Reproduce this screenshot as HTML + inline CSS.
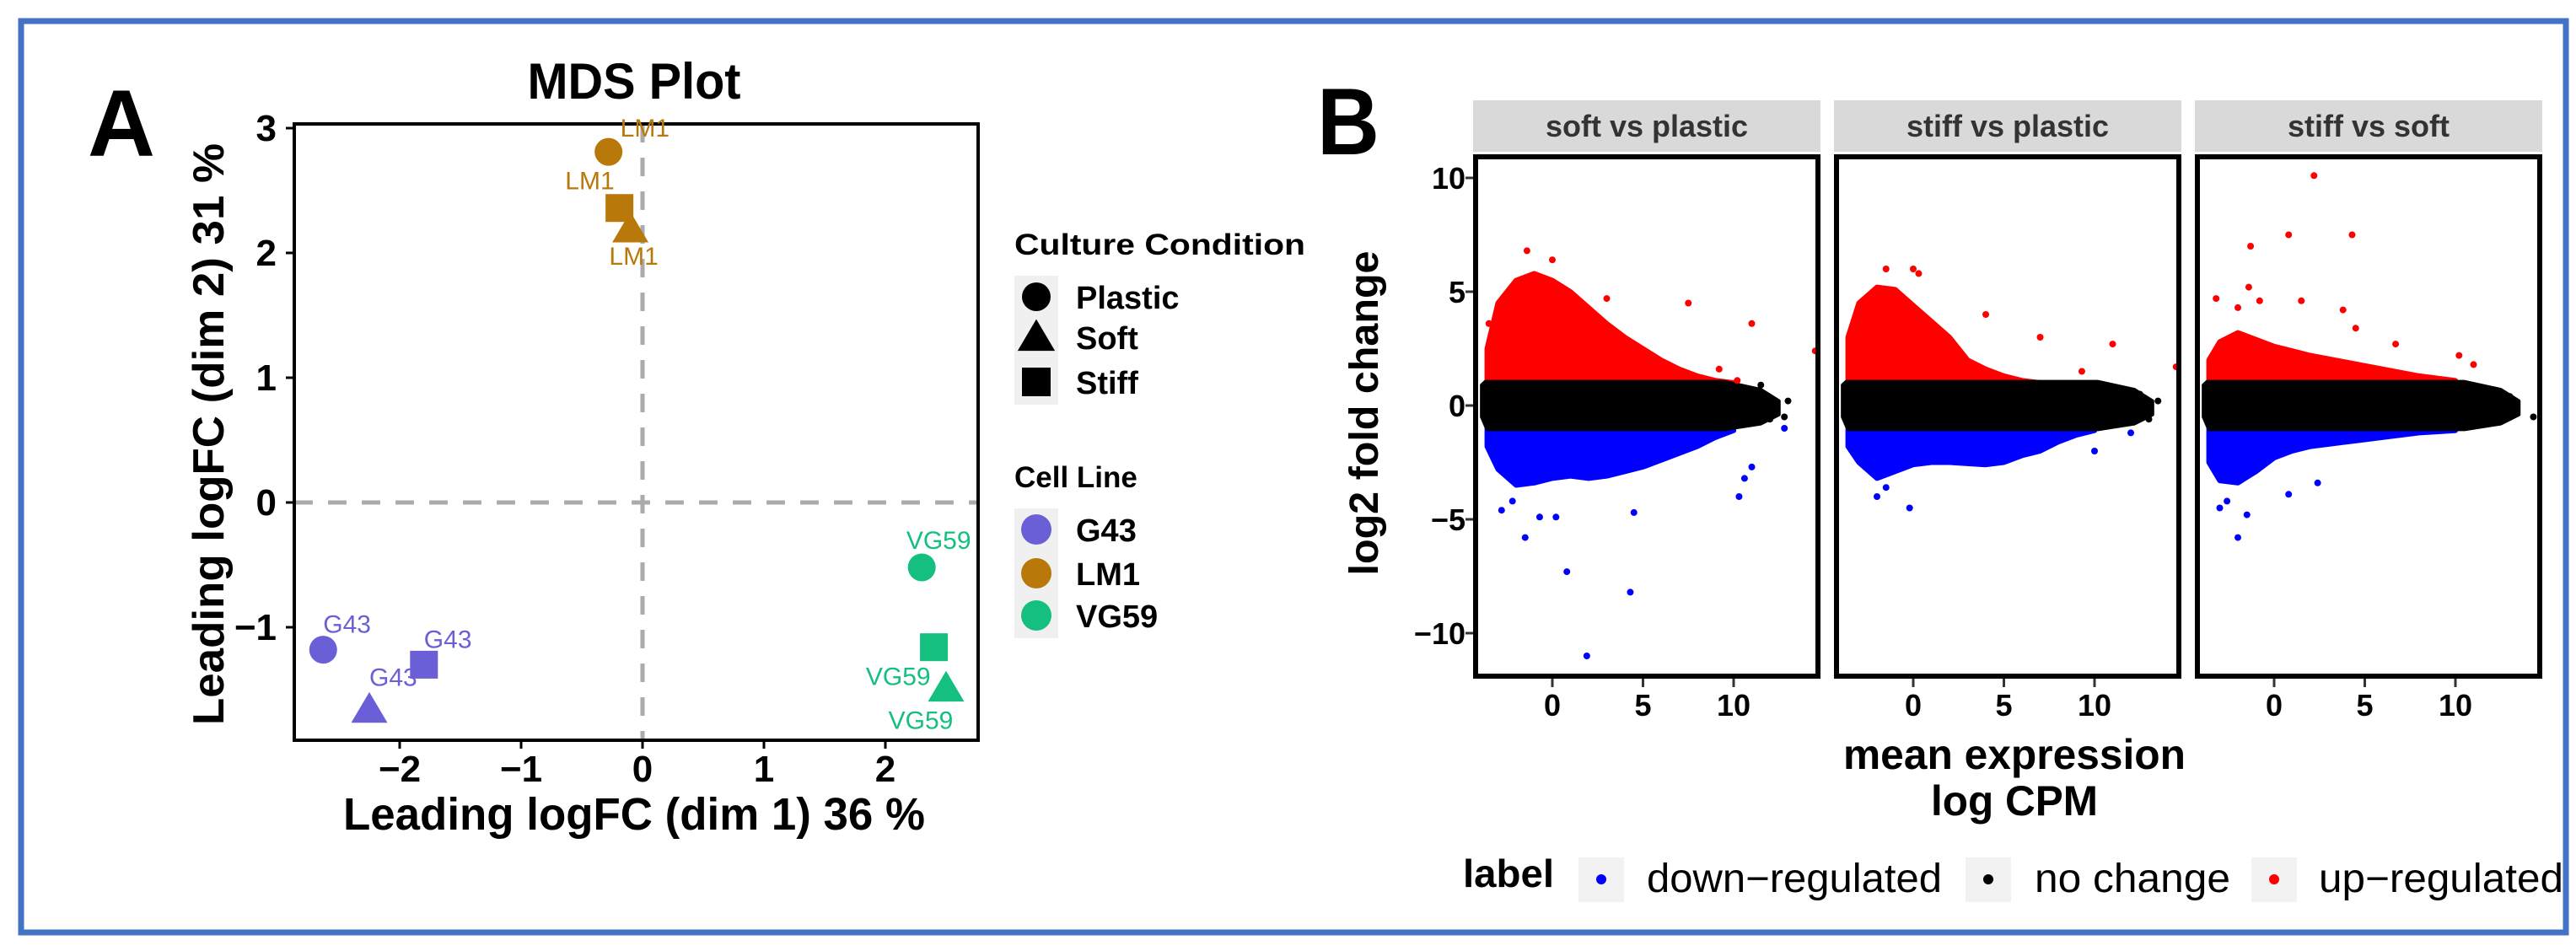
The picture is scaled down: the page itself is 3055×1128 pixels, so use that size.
<!DOCTYPE html>
<html><head><meta charset="utf-8"><style>
html,body{margin:0;padding:0;background:#fff;}
svg{display:block;}
text{font-family:"Liberation Sans Narrow","Liberation Sans",sans-serif;}
</style></head><body>
<svg id="fig" xmlns="http://www.w3.org/2000/svg" width="3055" height="1128" viewBox="0 0 3055 1128">
<rect x="25" y="25" width="3018" height="1081" fill="#fff" stroke="#4472C4" stroke-width="7"/>
<text x="104" y="185" font-size="112" font-weight="bold" textLength="80" lengthAdjust="spacingAndGlyphs">A</text>
<text x="1562" y="183" font-size="112" font-weight="bold" textLength="74" lengthAdjust="spacingAndGlyphs">B</text>
<g id="pa"></g>
<g id="pb"></g>
</svg>
<script>
const NS="http://www.w3.org/2000/svg";
function mk(parent,tag,attrs,txt){const e=document.createElementNS(NS,tag);for(const k in attrs)e.setAttribute(k,attrs[k]);if(txt!==undefined)e.textContent=txt;parent.appendChild(e);return e;}

/* ---------- Panel A: MDS data ---------- */
const mdsLines=["LM1","LM1","LM1","G43","G43","G43","VG59","VG59","VG59"];
const mdsConds=["Plastic","Stiff","Soft","Plastic","Stiff","Soft","Plastic","Stiff","Soft"];
const mdsDim1=[-0.28,-0.19,-0.10,-2.63,-1.80,-2.25,2.30,2.40,2.50];
const mdsDim2=[2.81,2.36,2.19,-1.18,-1.30,-1.66,-0.52,-1.16,-1.49];
const mdsXTicks=[-2,-1,0,1,2];
const mdsYTicks=[-1,0,1,2,3];
const lineColors={G43:"#6A5FD6",LM1:"#B8780A",VG59:"#15BF7F"};

const pa=document.getElementById('pa');
const ax=v=>762+144*v, ay=v=>596-148*v;
const AL=349,AR=1160,AT=147,AB=878;
mk(pa,'text',{x:752,y:117,'font-size':60,'font-weight':'bold','text-anchor':'middle',textLength:253,lengthAdjust:'spacingAndGlyphs',},'MDS Plot');
let l=mk(pa,'line',{x1:AL,x2:AR,y1:ay(0),y2:ay(0),stroke:'#aaa','stroke-width':5,'stroke-dasharray':'22 18'});

l=mk(pa,'line',{x1:ax(0),x2:ax(0),y1:AT,y2:AB,stroke:'#aaa','stroke-width':5,'stroke-dasharray':'22 18'});

mdsXTicks.forEach(t=>{
  mk(pa,'line',{x1:ax(t),x2:ax(t),y1:AB,y2:AB+10,stroke:'#000','stroke-width':3});
  const tx=mk(pa,'text',{x:ax(t),y:927,'font-size':44,'font-weight':'bold','text-anchor':'middle'},t<0?'\u2212'+(-t):String(t));
  
});
mdsYTicks.forEach(t=>{
  mk(pa,'line',{x1:AL-10,x2:AL,y1:ay(t),y2:ay(t),stroke:'#000','stroke-width':3});
  const tx=mk(pa,'text',{x:328,y:ay(t)+15,'font-size':44,'font-weight':'bold','text-anchor':'end'},t<0?'\u2212'+(-t):String(t));
  
});
l=mk(pa,'rect',{x:AL,y:AT,width:AR-AL,height:AB-AT,fill:'none',stroke:'#000','stroke-width':4});

let t=mk(pa,'text',{x:752,y:984,'font-size':54,'font-weight':'bold','text-anchor':'middle',textLength:690,lengthAdjust:'spacingAndGlyphs'},'Leading logFC (dim 1) 36 %');

t=mk(pa,'text',{x:0,y:0,'font-size':52,'font-weight':'bold','text-anchor':'middle',textLength:690,lengthAdjust:'spacingAndGlyphs',transform:'translate(265,515) rotate(-90)',style:'font-family:"Liberation Sans",sans-serif'},'Leading logFC (dim 2) 31 %');


function shape(g,cond,cx,cy,s,col){
  if(cond==='Plastic')return mk(g,'circle',{cx:cx,cy:cy,r:s*0.5,fill:col});
  if(cond==='Stiff')return mk(g,'rect',{x:cx-s*0.5,y:cy-s*0.5,width:s,height:s,fill:col});
  const h=s*1.05;return mk(g,'polygon',{points:`${cx},${cy-h*0.6} ${cx+h*0.62},${cy+h*0.45} ${cx-h*0.62},${cy+h*0.45}`,fill:col});
}
const labelOffsets={Plastic:[14,-18,'start'],Stiff:[-6,-22,'end'],Soft:[4,42,'middle']};
const labelOffsetsVG={Plastic:[20,-22,'middle'],Stiff:[-4,45,'end'],Soft:[-30,48,'middle']};
const labelOffsetsG={Plastic:[0,-20,'start'],Stiff:[0,-20,'start'],Soft:[0,-28,'start']};
mdsDim1.forEach((d1,i)=>{
  const cx=ax(d1),cy=ay(mdsDim2[i]),col=lineColors[mdsLines[i]];
  const m=shape(pa,mdsConds[i],cx,cy,33,col);
  
  
  const off=mdsLines[i]==='VG59'?labelOffsetsVG[mdsConds[i]]:(mdsLines[i]==='G43'?labelOffsetsG[mdsConds[i]]:labelOffsets[mdsConds[i]]);
  const lb=mk(pa,'text',{x:cx+off[0],y:cy+off[1],'font-size':30,fill:col,'text-anchor':off[2]},mdsLines[i]);
  
});
t=mk(pa,'text',{x:1203,y:302,'font-size':35,'font-weight':'bold',textLength:345,lengthAdjust:'spacingAndGlyphs',style:'font-family:"Liberation Sans",sans-serif'},'Culture Condition');

mk(pa,'rect',{x:1203,y:327,width:52,height:153,fill:'#f0f0f0'});
const condKeys=["Plastic","Soft","Stiff"], condY=[352,400,453];
condKeys.forEach((c,i)=>{
  const m=shape(pa,c,1229,condY[i],34,'#000');
  
  const tx=mk(pa,'text',{x:1276,y:condY[i]+14,'font-size':38,'font-weight':'bold',style:'font-family:"Liberation Sans",sans-serif'},c);
  
});
t=mk(pa,'text',{x:1203,y:578,'font-size':35,'font-weight':'bold',style:'font-family:"Liberation Sans",sans-serif'},'Cell Line');

mk(pa,'rect',{x:1203,y:603,width:52,height:154,fill:'#f0f0f0'});
const lineKeys=["G43","LM1","VG59"], lineY=[628,680,730];
lineKeys.forEach((c,i)=>{
  const m=mk(pa,'circle',{cx:1229,cy:lineY[i],r:18,fill:lineColors[c]});
  
  const tx=mk(pa,'text',{x:1276,y:lineY[i]+14,'font-size':38,'font-weight':'bold',style:'font-family:"Liberation Sans",sans-serif'},c);
  
});

/* ---------- Panel B: MA plot data ---------- */
const facetTitles=["soft vs plastic","stiff vs plastic","stiff vs soft"];
const bXTicks=[0,5,10];
const bYTicks=[-10,-5,0,5,10];
const upX=[[-3.6,-3,-2,-1,0,1,2,3,4,5,6,7,8,9,10],[-3.6,-3,-2,-1,0,1,2,3,4,5,6,7,8],[-3.6,-3,-2,-1,0,1,2,4,6,8,10]];
const upY=[[2.5,4.5,5.5,5.8,5.5,5.0,4.3,3.6,3.0,2.5,2.0,1.6,1.3,1.1,1.0],[3.0,4.5,5.2,5.1,4.4,3.7,3.0,2.0,1.6,1.3,1.1,1.0,1.0],[2.0,2.8,3.2,2.9,2.6,2.4,2.2,1.9,1.6,1.3,1.1]];
const downX=[[-3.6,-3,-2,-1,0,1,2,3,4,5,6,7,8,9,10],[-3.6,-3,-2,-1,0,1,2,4,5,6,7,8,9,10],[-3.6,-3,-2,-1,0,1,2,4,6,8,10]];
const downY=[[-1.8,-2.8,-3.5,-3.4,-3.2,-3.1,-3.2,-3.1,-2.9,-2.7,-2.4,-2.1,-1.8,-1.4,-1.1],[-1.8,-2.5,-3.2,-2.9,-2.6,-2.5,-2.5,-2.6,-2.5,-2.2,-2.0,-1.6,-1.3,-1.1],[-2.5,-3.3,-3.4,-2.9,-2.3,-2.0,-1.8,-1.6,-1.4,-1.2,-1.1]];
const ncXMax=[12.5,13.2,13.5];
const upOutX=[[-1.4,0,3,7.5,11,14.5,10.2,9.2,-3.5],[-1.5,0,0.3,4,7,11,14.5,9.3],[2.2,-1.3,0.8,4.3,-1.4,-3.2,-0.8,1.5,3.8,6.7,10.2,11,-2,4.5]];
const upOutY=[[6.8,6.4,4.7,4.5,3.6,2.4,1.1,1.6,3.6],[6.0,6.0,5.8,4.0,3.0,2.7,1.7,1.5],[10.1,7.0,7.5,7.5,5.2,4.7,4.6,4.6,4.2,2.7,2.2,1.8,4.3,3.4]];
const dnOutX=[[-2.8,-1.5,0.8,4.3,1.9,-0.7,4.5,10.3,10.6,11,12.8,-2.2,0.2],[-2,-0.2,10,12,-1.5],[-2,-3,-1.5,2.4,0.8,-2.6]];
const dnOutY=[[-4.6,-5.8,-7.3,-8.2,-11,-4.9,-4.7,-4.0,-3.2,-2.7,-1.0,-4.2,-4.9],[-4.0,-4.5,-2.0,-1.2,-3.6],[-5.8,-4.5,-4.8,-3.4,-3.9,-4.2]];
const ncOutX=[[11.5,12,12.8,13],[12.5,13,13.5],[13,14.3,13.3]];
const ncOutY=[[0.9,-0.6,-0.5,0.2],[0.5,-0.6,0.2],[0.4,-0.5,-0.3]];

const pb=document.getElementById('pb');
const by=v=>481-27*v;
const FL=[1747,2175,2603],FW=412,FT=183,FB=805;
facetTitles.forEach((ft,f)=>{
  const bx=v=>FL[f]+94+21.5*v;
  const g=mk(pb,'g',{});
  
  const st=mk(g,'rect',{x:FL[f],y:119,width:FW,height:61,fill:'#d9d9d9'});
  
  const tt=mk(g,'text',{x:FL[f]+FW/2,y:162,'font-size':36,'font-weight':'bold','text-anchor':'middle',fill:'#333'},ft);
  
  const clip=mk(g,'clipPath',{id:'cp'+f});mk(clip,'rect',{x:FL[f],y:FT,width:FW,height:FB-FT});
  const cg=mk(g,'g',{'clip-path':'url(#cp'+f+')'});
  let pts=upX[f].map((x,i)=>bx(x)+','+by(upY[f][i]));
  pts.push(bx(upX[f][upX[f].length-1])+','+by(1),bx(upX[f][0])+','+by(1));
  let p=mk(cg,'polygon',{points:pts.join(' '),fill:'#ff0000',stroke:'#ff0000','stroke-width':6,'stroke-linejoin':'round'});
  
  pts=downX[f].map((x,i)=>bx(x)+','+by(downY[f][i]));
  pts.push(bx(downX[f][downX[f].length-1])+','+by(-1),bx(downX[f][0])+','+by(-1));
  p=mk(cg,'polygon',{points:pts.join(' '),fill:'#0000ff',stroke:'#0000ff','stroke-width':6,'stroke-linejoin':'round'});
  
  const xm=ncXMax[f];
  p=mk(cg,'polygon',{points:[bx(-3.9)+','+by(0.9),bx(-3.7)+','+by(1.05),bx(xm-3)+','+by(1.05),bx(xm-1)+','+by(0.7),bx(xm)+','+by(0.2),bx(xm)+','+by(-0.4),bx(xm-1)+','+by(-0.8),bx(xm-3)+','+by(-1.05),bx(-3.6)+','+by(-1.05),bx(-3.9)+','+by(-0.5)].join(' '),fill:'#000',stroke:'#000','stroke-width':4,'stroke-linejoin':'round'});
  
  upOutX[f].forEach((x,i)=>{const c=mk(cg,'circle',{cx:bx(x),cy:by(upOutY[f][i]),r:4,fill:'#ff0000'});
    });
  dnOutX[f].forEach((x,i)=>{const c=mk(cg,'circle',{cx:bx(x),cy:by(dnOutY[f][i]),r:4,fill:'#0000ff'});
    });
  ncOutX[f].forEach((x,i)=>{const c=mk(cg,'circle',{cx:bx(x),cy:by(ncOutY[f][i]),r:4,fill:'#000'});
    });
  const fr=mk(g,'rect',{x:FL[f]+3,y:FT+3,width:FW-6,height:FB-FT-6,fill:'none',stroke:'#000','stroke-width':6});
  
  bXTicks.forEach(tk=>{
    mk(g,'line',{x1:bx(tk),x2:bx(tk),y1:FB,y2:FB+10,stroke:'#333','stroke-width':3});
    const tl=mk(g,'text',{x:bx(tk),y:849,'font-size':36,'font-weight':'bold','text-anchor':'middle'},String(tk));
    
  });
});
bYTicks.forEach(tk=>{
  mk(pb,'line',{x1:FL[0]-9,x2:FL[0],y1:by(tk),y2:by(tk),stroke:'#333','stroke-width':3});
  const tl=mk(pb,'text',{x:1738,y:by(tk)+13,'font-size':36,'font-weight':'bold','text-anchor':'end'},tk<0?'\u2212'+(-tk):String(tk));
  
});
t=mk(pb,'text',{x:0,y:0,'font-size':48,'font-weight':'bold','text-anchor':'middle',textLength:385,lengthAdjust:'spacingAndGlyphs',transform:'translate(1634,490) rotate(-90)',style:'font-family:"Liberation Sans",sans-serif'},'log2 fold change');

t=mk(pb,'text',{x:2389,y:912,'font-size':50,'font-weight':'bold','text-anchor':'middle',textLength:406,lengthAdjust:'spacingAndGlyphs'},'mean expression');

t=mk(pb,'text',{x:2389,y:967,'font-size':50,'font-weight':'bold','text-anchor':'middle',textLength:198,lengthAdjust:'spacingAndGlyphs'},'log CPM');

t=mk(pb,'text',{x:1735,y:1052,'font-size':46,'font-weight':'bold',textLength:108,lengthAdjust:'spacingAndGlyphs'},'label');

const legLabels=["down\u2212regulated","no change","up\u2212regulated"];
const legColors=["#0000ff","#000000","#ff0000"];
const legKeyX=[1872,2331,2670], legTextX=[1953,2413,2750], legTextW=[350,232,290];
legLabels.forEach((lb,i)=>{
  mk(pb,'rect',{x:legKeyX[i],y:1017,width:54,height:53,fill:'#f2f2f2'});
  const c=mk(pb,'circle',{cx:legKeyX[i]+27,cy:1043,r:6,fill:legColors[i]});
  
  const tx=mk(pb,'text',{x:legTextX[i],y:1058,'font-size':48,textLength:legTextW[i],lengthAdjust:'spacingAndGlyphs'},lb);
  
});
</script>
</body></html>
